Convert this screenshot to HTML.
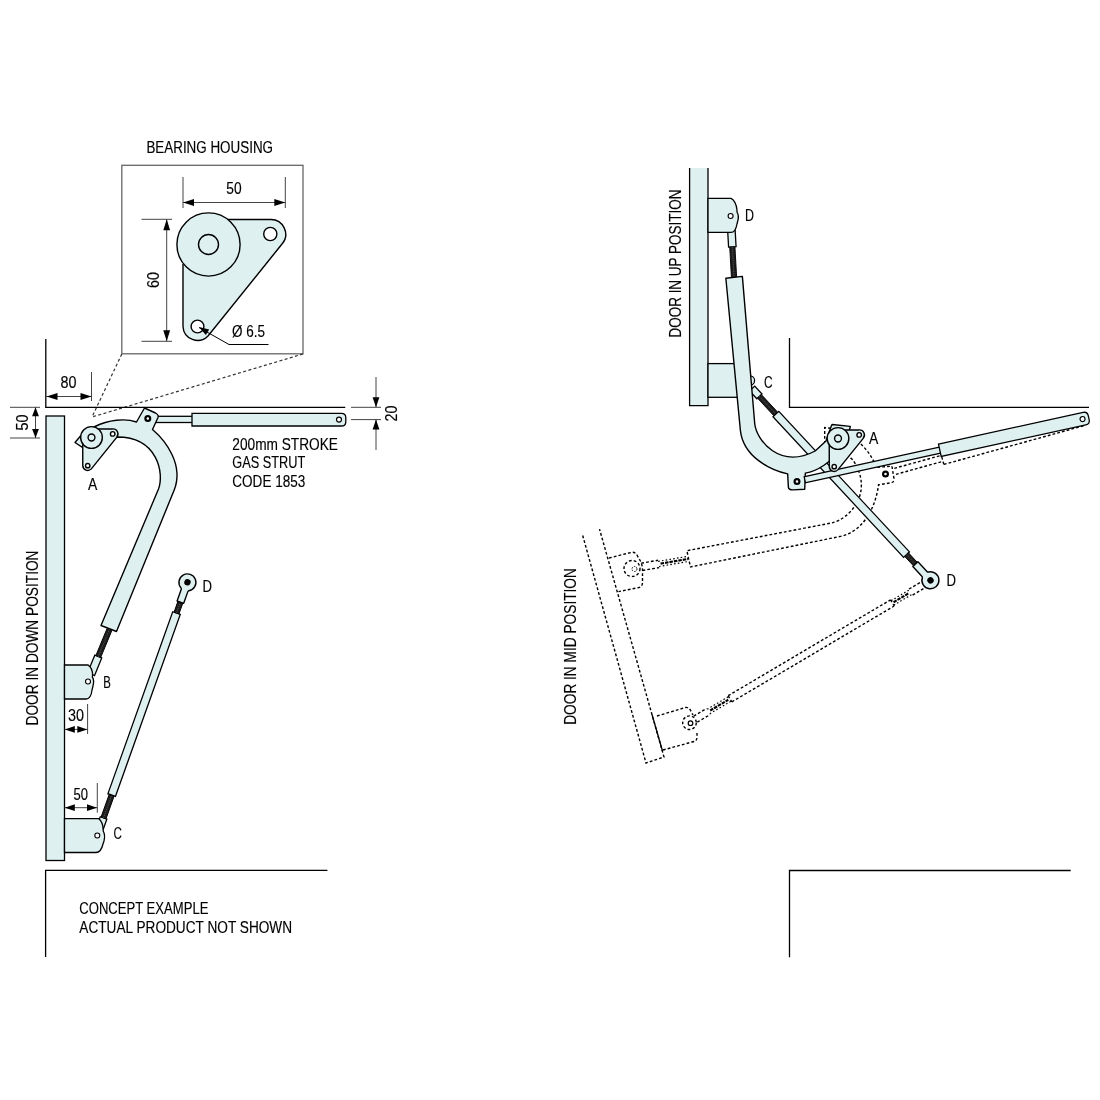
<!DOCTYPE html>
<html><head><meta charset="utf-8"><style>
html,body{margin:0;padding:0;background:#fff;}
svg{display:block;will-change:transform;font-family:"Liberation Sans",sans-serif;}
</style></head><body>
<svg width="1100" height="1100" viewBox="0 0 1100 1100">
<rect x="121.8" y="165.3" width="181.2" height="188.5" fill="none" stroke="#666" stroke-width="1.3"/>
<text x="146.4" y="152.6" font-size="15.9" text-anchor="start" textLength="126.6" lengthAdjust="spacingAndGlyphs" fill="#000" stroke="#000" stroke-width="0.15">BEARING HOUSING</text>
<path d="M121.8,354 L92,417 M303,354 L92,417" stroke="#333" stroke-width="1.2" stroke-dasharray="3,2.4" fill="none"/>
<path d="M228,219.5 L270.3,219.5 A14.8,14.8 0 0 1 282,244 L208,336 A14.6,14.6 0 0 1 183,326.5 L183,264" fill="#dff0f0" stroke="#000" stroke-width="1.4" stroke-linejoin="round"/>
<circle cx="208.5" cy="244.5" r="31.6" fill="#dff0f0" stroke="#000" stroke-width="1.4"/>
<circle cx="208.5" cy="244.5" r="10" fill="#dff0f0" stroke="#000" stroke-width="1.4"/>
<circle cx="270.3" cy="234" r="6.6" fill="#fff" stroke="#000" stroke-width="1.4"/>
<circle cx="197.5" cy="326.5" r="6.4" fill="#fff" stroke="#000" stroke-width="1.4"/>
<path d="M183,177 V208 M285.3,177 V208 M183,202.5 H285.3" stroke="#444" stroke-width="1" fill="none"/>
<path d="M183.00,202.50 L194.00,199.10 L194.00,205.90Z" fill="#000"/>
<path d="M285.30,202.50 L274.30,205.90 L274.30,199.10Z" fill="#000"/>
<text x="234" y="194" font-size="15.9" text-anchor="middle" textLength="15.3" lengthAdjust="spacingAndGlyphs" fill="#000" stroke="#000" stroke-width="0.15">50</text>
<path d="M141.5,219.3 H172 M141.5,341.3 H172 M166.7,219.3 V341.3" stroke="#444" stroke-width="1" fill="none"/>
<path d="M166.70,219.30 L170.10,230.30 L163.30,230.30Z" fill="#000"/>
<path d="M166.70,341.30 L163.30,330.30 L170.10,330.30Z" fill="#000"/>
<text x="158.5" y="280" font-size="15.9" text-anchor="middle" textLength="16" lengthAdjust="spacingAndGlyphs" transform="rotate(-90 158.5 280)" fill="#000" stroke="#000" stroke-width="0.15">60</text>
<path d="M199,327.5 L229,344.5 H268.5" stroke="#000" stroke-width="1" fill="none"/>
<path d="M199.00,327.00 L209.19,329.55 L205.81,334.99Z" fill="#000"/>
<text x="232" y="336.5" font-size="15.9" text-anchor="start" textLength="33" lengthAdjust="spacingAndGlyphs" fill="#000" stroke="#000" stroke-width="0.15">&#216; 6.5</text>
<path d="M45.8,339 V407.4 H345.3" stroke="#000" stroke-width="1.3" fill="none"/>
<path d="M91.5,372 V401 M46,396.5 H91.5" stroke="#444" stroke-width="1" fill="none"/>
<path d="M46.50,396.50 L57.50,393.10 L57.50,399.90Z" fill="#000"/>
<path d="M91.50,396.50 L80.50,399.90 L80.50,393.10Z" fill="#000"/>
<text x="68.5" y="388" font-size="15.9" text-anchor="middle" textLength="16" lengthAdjust="spacingAndGlyphs" fill="#000" stroke="#000" stroke-width="0.15">80</text>
<path d="M10,407.3 H40 M10,438 H40 M35.5,407.3 V438" stroke="#444" stroke-width="1" fill="none"/>
<path d="M35.50,407.30 L38.90,416.30 L32.10,416.30Z" fill="#000"/>
<path d="M35.50,438.00 L32.10,429.00 L38.90,429.00Z" fill="#000"/>
<text x="27.5" y="422.5" font-size="15.9" text-anchor="middle" textLength="16" lengthAdjust="spacingAndGlyphs" transform="rotate(-90 27.5 422.5)" fill="#000" stroke="#000" stroke-width="0.15">50</text>
<rect x="46" y="416" width="18.5" height="444.5" fill="#dff0f0" stroke="#000" stroke-width="1.3"/>
<text x="38.2" y="725.5" font-size="15.9" text-anchor="start" textLength="175" lengthAdjust="spacingAndGlyphs" transform="rotate(-90 38.2 725.5)" fill="#000" stroke="#000" stroke-width="0.15">DOOR IN DOWN POSITION</text>
<rect x="155" y="416.3" width="38" height="6.2" fill="#dff0f0" stroke="#000" stroke-width="1.3"/>
<path d="M192,413.3 L341.5,413.3 Q345.8,413.3 345.8,417.6 L345.8,421.7 Q345.8,426 341.5,426 L192,426 Z" fill="#dff0f0" stroke="#000" stroke-width="1.3"/>
<circle cx="339" cy="419.6" r="2.5" fill="#fff" stroke="#000" stroke-width="1.2"/>
<path d="M95,426.5 C108,420 125,418 136.5,422 L144.5,408 L155.5,413 Q159,415 158,417.5 L152.5,429.5 C166,441 184,465 174.2,490 L116.5,631.5 L101,625.5 L158.5,489 C164.3,474 158,437 117.5,437 L103.3,440.9 L92.4,451 L90.3,452.7 L75,442.5 L80.5,436 Z" fill="#dff0f0" stroke="#000" stroke-width="1.4" stroke-linejoin="round"/>
<circle cx="147.8" cy="418.5" r="2.4" fill="#fff" stroke="#000" stroke-width="2.2"/>
<g transform="translate(91.5,437.5) scale(0.343)">
<path d="M19.5,-25 L61.8,-25 A14.8,14.8 0 0 1 73.5,-0.5 L-0.5,91.5 A14.6,14.6 0 0 1 -25.5,82 L-25.5,19.5" fill="#dff0f0" stroke="#000" stroke-width="1.4" vector-effect="non-scaling-stroke" stroke-linejoin="round"/>
<circle cx="0" cy="0" r="31.6" fill="#dff0f0" stroke="#000" stroke-width="1.4" vector-effect="non-scaling-stroke"/>
<circle cx="0" cy="0" r="10" fill="#dff0f0" stroke="#000" stroke-width="1.4" vector-effect="non-scaling-stroke"/>
<circle cx="61.8" cy="-10.5" r="6.6" fill="#fff" stroke="#000" stroke-width="1.4" vector-effect="non-scaling-stroke"/>
<circle cx="-11" cy="82" r="6.4" fill="#fff" stroke="#000" stroke-width="1.4" vector-effect="non-scaling-stroke"/>
</g>
<text x="88" y="490" font-size="15.9" text-anchor="start" textLength="9.3" lengthAdjust="spacingAndGlyphs" fill="#000" stroke="#000" stroke-width="0.15">A</text>
<g transform="translate(88,681.5) rotate(-67.6)">
<rect x="8" y="-3.75" width="19" height="7.5" rx="0" fill="#dff0f0" stroke="#000" stroke-width="1.3"/>
<rect x="27" y="-2.6" width="29" height="5.2" fill="#1e1e1e" stroke="#000" stroke-width="0.9"/><path d="M27,0 H56" stroke="#6a6a6a" stroke-width="0.9" stroke-dasharray="0.8,1.4"/>
</g>
<path d="M64.5,665 H88.1 Q92.5,668 92.6,675 L92.3,677 Q94.5,680 93,686 L92,690 Q91,699 86,699 H64.5 Z" fill="#dff0f0" stroke="#000" stroke-width="1.3"/>
<circle cx="88" cy="681.5" r="2.5" fill="#fff" stroke="#000" stroke-width="1.1"/>
<text x="103.3" y="687.6" font-size="15.9" text-anchor="start" textLength="7.6" lengthAdjust="spacingAndGlyphs" fill="#000" stroke="#000" stroke-width="0.15">B</text>
<path d="M87.6,704 V734 M64.5,729.4 H87.6" stroke="#444" stroke-width="1" fill="none"/>
<path d="M64.80,729.40 L74.80,726.00 L74.80,732.80Z" fill="#000"/>
<path d="M87.30,729.40 L77.30,732.80 L77.30,726.00Z" fill="#000"/>
<text x="76" y="721.2" font-size="15.9" text-anchor="middle" textLength="16" lengthAdjust="spacingAndGlyphs" fill="#000" stroke="#000" stroke-width="0.15">30</text>
<g transform="translate(97.3,835.5) rotate(-70.4)">
<rect x="8" y="-3.5" width="10.7" height="7" rx="0" fill="#dff0f0" stroke="#000" stroke-width="1.3"/>
<rect x="18.7" y="-2.6" width="24.2" height="5.2" fill="#1e1e1e" stroke="#000" stroke-width="0.9"/><path d="M18.7,0 H42.9" stroke="#6a6a6a" stroke-width="0.9" stroke-dasharray="0.8,1.4"/>
<rect x="42.9" y="-4.0" width="193.2" height="8" rx="0" fill="#dff0f0" stroke="#000" stroke-width="1.3"/>
<rect x="236.1" y="-2.6" width="11.599999999999994" height="5.2" fill="#1e1e1e" stroke="#000" stroke-width="0.9"/><path d="M236.1,0 H247.7" stroke="#6a6a6a" stroke-width="0.9" stroke-dasharray="0.8,1.4"/>
<path d="M247.7,-3.5 L259.85,-3.5 Q261.05,-3.5 261.25,-4.1 A8.5,8.5 0 1 1 261.25,4.1 Q261.05,3.5 259.85,3.5 L247.7,3.5 Z" fill="#dff0f0" stroke="#000" stroke-width="1.4" stroke-linejoin="round"/>
<circle cx="268.8" cy="0" r="3.2" fill="#000"/>
</g>
<path d="M64.5,818.6 H98.6 Q103,822 103.2,830 L103.2,831 Q105.5,835 104,841 L103,844 Q101,852.5 96,852.5 H64.5 Z" fill="#dff0f0" stroke="#000" stroke-width="1.3"/>
<circle cx="97.3" cy="835.5" r="2.5" fill="#fff" stroke="#000" stroke-width="1.1"/>
<text x="113.6" y="838.6" font-size="15.9" text-anchor="start" textLength="8.4" lengthAdjust="spacingAndGlyphs" fill="#000" stroke="#000" stroke-width="0.15">C</text>
<text x="202.6" y="591.5" font-size="15.9" text-anchor="start" textLength="9.5" lengthAdjust="spacingAndGlyphs" fill="#000" stroke="#000" stroke-width="0.15">D</text>
<path d="M97.3,783 V812.7 M64.5,807.7 H97.3" stroke="#444" stroke-width="1" fill="none"/>
<path d="M64.80,807.70 L74.80,804.30 L74.80,811.10Z" fill="#000"/>
<path d="M97.00,807.70 L87.00,811.10 L87.00,804.30Z" fill="#000"/>
<text x="80.75" y="799.5" font-size="15.9" text-anchor="middle" textLength="14.5" lengthAdjust="spacingAndGlyphs" fill="#000" stroke="#000" stroke-width="0.15">50</text>
<path d="M351,407.3 H381 M351,419.6 H381 M376,377 V407.3 M376,419.6 V450" stroke="#444" stroke-width="1" fill="none"/>
<path d="M376.00,407.30 L372.60,397.30 L379.40,397.30Z" fill="#000"/>
<path d="M376.00,419.60 L379.40,429.60 L372.60,429.60Z" fill="#000"/>
<text x="397" y="413.5" font-size="15.9" text-anchor="middle" textLength="16" lengthAdjust="spacingAndGlyphs" transform="rotate(-90 397 413.5)" fill="#000" stroke="#000" stroke-width="0.15">20</text>
<text x="232.3" y="449.5" font-size="15.9" text-anchor="start" textLength="105.7" lengthAdjust="spacingAndGlyphs" fill="#000" stroke="#000" stroke-width="0.15">200mm STROKE</text>
<text x="232.3" y="468.3" font-size="15.9" text-anchor="start" textLength="73" lengthAdjust="spacingAndGlyphs" fill="#000" stroke="#000" stroke-width="0.15">GAS STRUT</text>
<text x="232.3" y="487.2" font-size="15.9" text-anchor="start" textLength="73" lengthAdjust="spacingAndGlyphs" fill="#000" stroke="#000" stroke-width="0.15">CODE 1853</text>
<path d="M327.4,870.4 H45.6 V957" stroke="#000" stroke-width="1.3" fill="none"/>
<text x="79.3" y="913.6" font-size="15.9" text-anchor="start" textLength="129.1" lengthAdjust="spacingAndGlyphs" fill="#000" stroke="#000" stroke-width="0.15">CONCEPT EXAMPLE</text>
<text x="79.3" y="932.5" font-size="15.9" text-anchor="start" textLength="212.8" lengthAdjust="spacingAndGlyphs" fill="#000" stroke="#000" stroke-width="0.15">ACTUAL PRODUCT NOT SHOWN</text>
<path d="M582.7,535.5 L646,763 L664,757 L599.5,529.1" stroke="#000" stroke-width="1.4" stroke-dasharray="2.8,2.1" fill="none"/>
<path d="M609,558 L631.8,552.3 Q635,551.5 637.5,556 L641,562 Q642.5,566 642.5,570 L642.5,583 Q642,587 639,587.5 L618.5,591.6" stroke="#000" stroke-width="1.4" stroke-dasharray="2.8,2.1" fill="none"/>
<circle cx="632" cy="568.5" r="8" stroke="#000" stroke-width="1.4" stroke-dasharray="2.8,2.1" fill="none"/>
<circle cx="634.5" cy="569" r="2.5" stroke="#000" stroke-width="1" stroke-dasharray="1.5,1.2" fill="none"/>
<g transform="translate(632,568.5) rotate(-9.7)">
<path d="M10,-3.7 H27 M10,3.7 H27" stroke="#000" stroke-width="1.4" stroke-dasharray="2.8,2.1" fill="none"/>
<path d="M27,-2.6 H57 M27,2.6 H57" stroke="#000" stroke-width="1.2" stroke-dasharray="1.6,2.2" fill="none"/>
<path d="M29,0 H57" stroke="#000" stroke-width="2.2" stroke-dasharray="3.5,1" fill="none"/>
</g>
<path d="M657,716 L685.5,707.5 Q688,707 690,709.5 L693,715 M697,733 L697,738 Q696.5,741.5 692,742 L663,750" stroke="#000" stroke-width="1.4" stroke-dasharray="2.8,2.1" fill="none"/>
<path d="M652,714.5 L662.5,751" stroke="#000" stroke-width="1.3" fill="none"/>
<circle cx="689.5" cy="722.7" r="6.8" stroke="#000" stroke-width="1.4" stroke-dasharray="2.8,2.1" fill="none"/>
<circle cx="690.5" cy="723.2" r="2.3" stroke="#000" stroke-width="1.2" fill="none"/>
<g transform="translate(689.5,722.7) rotate(-30.56)">
<path d="M7,-3.5 L22,-3.5 M7,3.5 L22,3.5" stroke="#000" stroke-width="1.4" stroke-dasharray="2.8,2.1" fill="none"/>
<path d="M22,-2.6 H47 M22,2.6 H47" stroke="#000" stroke-width="1.2" stroke-dasharray="1.6,2.2" fill="none"/>
<path d="M24,0 H45" stroke="#000" stroke-width="2.2" stroke-dasharray="3.5,1" fill="none"/>
<path d="M47,-3.6 V3.6 M47,-3.6 H235.6 M47,3.6 H235.6 M235.6,-3.6 V3.6" stroke="#000" stroke-width="1.4" stroke-dasharray="2.8,2.1" fill="none"/>
<path d="M235.6,-2.6 H257 M235.6,2.6 H257" stroke="#000" stroke-width="1.2" stroke-dasharray="1.6,2.2" fill="none"/>
<path d="M237,0 H255" stroke="#000" stroke-width="2.2" stroke-dasharray="3.5,1" fill="none"/>
<path d="M257,-3.5 H272 M257,3.5 H272" stroke="#000" stroke-width="1.4" stroke-dasharray="2.8,2.1" fill="none"/>
</g>
<path d="M95,426.5 C108,420 125,418 136.5,422 L144.5,408 L155.5,413 Q159,415 158,417.5 L152.5,429.5 C166,441 184,465 174.2,490 L116.5,631.5 L101,625.5 L158.5,489 C164.3,474 158,437 117.5,437 L103.3,440.9 L92.4,451 L90.3,452.7 L75,442.5 L80.5,436 Z" transform="translate(838,438.5) rotate(56.3) translate(-91.5,-437.5)" stroke="#000" stroke-width="1.4" stroke-dasharray="2.8,2.1" fill="none" stroke-linejoin="round"/>
<circle cx="885.5" cy="474" r="2.4" fill="#fff" stroke="#000" stroke-width="2.2"/>
<g transform="translate(885.5,474) rotate(-15.46)">
<path d="M10,-3.1 H58.8 M10,3.1 H58.8" stroke="#000" stroke-width="1.4" stroke-dasharray="2.8,2.1" fill="none"/>
<path d="M58.8,-6.35 V6.35 M58.8,-6.35 H205 M58.8,6.35 H205" stroke="#000" stroke-width="1.4" stroke-dasharray="2.8,2.1" fill="none"/>
</g>
<path d="M689.6,168 V405.6 H708 V168" fill="#dff0f0" stroke="#000" stroke-width="1.3"/>
<g transform="translate(730.6,216) rotate(86.8)">
<rect x="14" y="-3.75" width="17" height="7.5" rx="0" fill="#dff0f0" stroke="#000" stroke-width="1.3"/>
<rect x="31" y="-2.6" width="30.5" height="5.2" fill="#1e1e1e" stroke="#000" stroke-width="0.9"/><path d="M31,0 H61.5" stroke="#6a6a6a" stroke-width="0.9" stroke-dasharray="0.8,1.4"/>
</g>
<path d="M708,198.4 H731 Q736,201 737,210 L737,212 Q739.5,216 737.5,222 L737,224 Q735.5,232.4 731,232.4 H708 Z" fill="#dff0f0" stroke="#000" stroke-width="1.3"/>
<circle cx="730.6" cy="216" r="2.5" fill="#fff" stroke="#000" stroke-width="1.1"/>
<text x="745" y="221" font-size="15.9" text-anchor="start" textLength="9" lengthAdjust="spacingAndGlyphs" fill="#000" stroke="#000" stroke-width="0.15">D</text>
<rect x="708" y="363.6" width="34" height="33.7" fill="#dff0f0" stroke="#000" stroke-width="1.3"/>
<circle cx="750" cy="380.5" r="4.6" fill="#dff0f0" stroke="#000" stroke-width="1.2"/>
<g transform="translate(746.7,382.7) rotate(47.08)">
<rect x="8" y="-3.5" width="10.7" height="7" rx="0" fill="#dff0f0" stroke="#000" stroke-width="1.3"/>
<rect x="18.7" y="-2.6" width="24.2" height="5.2" fill="#1e1e1e" stroke="#000" stroke-width="0.9"/><path d="M18.7,0 H42.9" stroke="#6a6a6a" stroke-width="0.9" stroke-dasharray="0.8,1.4"/>
<rect x="42.9" y="-4.0" width="191.79999999999998" height="8" rx="0" fill="#dff0f0" stroke="#000" stroke-width="1.3"/>
<rect x="234.7" y="-2.6" width="13.0" height="5.2" fill="#1e1e1e" stroke="#000" stroke-width="0.9"/><path d="M234.7,0 H247.7" stroke="#6a6a6a" stroke-width="0.9" stroke-dasharray="0.8,1.4"/>
<path d="M247.7,-3.5 L260.95,-3.5 Q262.15,-3.5 262.35,-4.1 A8.5,8.5 0 1 1 262.35,4.1 Q262.15,3.5 260.95,3.5 L247.7,3.5 Z" fill="#dff0f0" stroke="#000" stroke-width="1.4" stroke-linejoin="round"/>
<circle cx="269.9" cy="0" r="3.2" fill="#000"/>
</g>
<text x="764.1" y="387.5" font-size="15.9" text-anchor="start" textLength="8.6" lengthAdjust="spacingAndGlyphs" fill="#000" stroke="#000" stroke-width="0.15">C</text>
<text x="946.5" y="586.2" font-size="15.9" text-anchor="start" textLength="9.5" lengthAdjust="spacingAndGlyphs" fill="#000" stroke="#000" stroke-width="0.15">D</text>
<path d="M95,426.5 C108,420 125,418 136.5,422 L144.5,408 L155.5,413 Q159,415 158,417.5 L152.5,429.5 C166,441 184,465 174.2,490 L116.5,631.5 L101,625.5 L158.5,489 C164.3,474 158,437 117.5,437 L103.3,440.9 L92.4,451 L90.3,452.7 L75,442.5 L80.5,436 Z" transform="translate(838,438.5) rotate(152.36) translate(-91.5,-437.5)" fill="#dff0f0" stroke="#000" stroke-width="1.4" stroke-linejoin="round"/>
<circle cx="797" cy="481.5" r="2.4" fill="#fff" stroke="#000" stroke-width="2.2"/>
<g transform="translate(797,481.5) rotate(-12.34)">
<rect x="8" y="-3.1" width="139" height="6.2" fill="#dff0f0" stroke="#000" stroke-width="1.3"/>
<path d="M146.2,-6.35 L294.3,-6.35 Q298.6,-6.35 298.6,-2.05 L298.6,2.05 Q298.6,6.35 294.3,6.35 L146.2,6.35 Z" fill="#dff0f0" stroke="#000" stroke-width="1.3"/>
<circle cx="292.3" cy="0" r="2.5" fill="#fff" stroke="#000" stroke-width="1.2"/>
</g>
<g transform="translate(838,438.5) scale(0.343)">
<path d="M19.5,-25 L61.8,-25 A14.8,14.8 0 0 1 73.5,-0.5 L-0.5,91.5 A14.6,14.6 0 0 1 -25.5,82 L-25.5,19.5" fill="#dff0f0" stroke="#000" stroke-width="1.4" vector-effect="non-scaling-stroke" stroke-linejoin="round"/>
<circle cx="0" cy="0" r="31.6" fill="#dff0f0" stroke="#000" stroke-width="1.4" vector-effect="non-scaling-stroke"/>
<circle cx="0" cy="0" r="10" fill="#dff0f0" stroke="#000" stroke-width="1.4" vector-effect="non-scaling-stroke"/>
<circle cx="61.8" cy="-10.5" r="6.6" fill="#fff" stroke="#000" stroke-width="1.4" vector-effect="non-scaling-stroke"/>
<circle cx="-11" cy="82" r="6.4" fill="#fff" stroke="#000" stroke-width="1.4" vector-effect="non-scaling-stroke"/>
</g>
<text x="869" y="443.6" font-size="15.9" text-anchor="start" textLength="9.3" lengthAdjust="spacingAndGlyphs" fill="#000" stroke="#000" stroke-width="0.15">A</text>
<path d="M789.5,338 V407.4 H1089" stroke="#000" stroke-width="1.3" fill="none"/>
<path d="M1070.7,870.5 H789.5 V957.3" stroke="#000" stroke-width="1.3" fill="none"/>
<text x="681.1" y="337.5" font-size="15.9" text-anchor="start" textLength="147.9" lengthAdjust="spacingAndGlyphs" transform="rotate(-90 681.1 337.5)" fill="#000" stroke="#000" stroke-width="0.15">DOOR IN UP POSITION</text>
<text x="575.9" y="724.8" font-size="15.9" text-anchor="start" textLength="156.7" lengthAdjust="spacingAndGlyphs" transform="rotate(-90 575.9 724.8)" fill="#000" stroke="#000" stroke-width="0.15">DOOR IN MID POSITION</text>
</svg></body></html>
